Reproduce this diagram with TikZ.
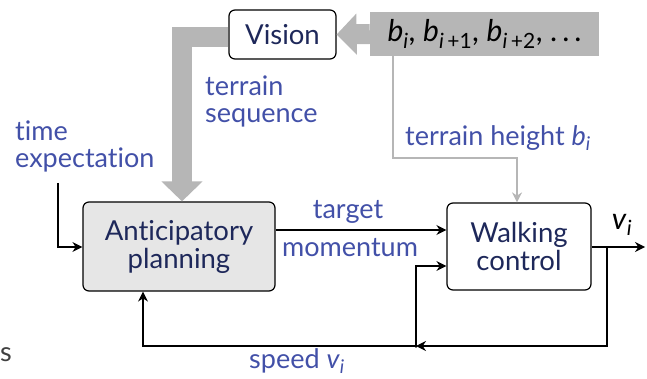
\documentclass[tikz,border=0pt]{standalone}
\usepackage{fontspec}
\setmainfont{Lato}[Ligatures=NoCommon]
\usetikzlibrary{arrows.meta,positioning}
\definecolor{labelblue}{RGB}{66,80,168}
\definecolor{boxtext}{RGB}{30,40,90}
\definecolor{seqgray}{RGB}{182,182,182}
\definecolor{plangray}{RGB}{230,230,230}
\newcommand{\bsub}[2]{\textit{#1}\textsubscript{#2}}

\begin{document}
\begin{tikzpicture}[x=1pt,y=-1pt,>={Stealth[length=10pt,width=10pt]},
  block/.style={draw,line width=1.2pt,rounded corners=6pt,align=center,
    text=boxtext,font=\fontsize{27.5}{28}\selectfont,inner sep=0pt},
  lbl/.style={text=labelblue,font=\fontsize{27}{27}\selectfont,align=left,inner sep=0pt},
  wire/.style={->,line width=1.2pt},
  bigarrow/.style={line width=20pt,seqgray,-{Triangle[length=20pt,width=40pt]}}]
\useasboundingbox (0,0) rectangle (647,379);

% blocks
  \node[block,minimum width=107pt,minimum height=49pt,fill=white] (vision) at (282.5,34.5) {Vision};
  \node[fill=seqgray,minimum width=229pt,minimum height=44pt,inner sep=0pt,
    font=\fontsize{30}{30}\selectfont] (seq) at (484.5,34)
    {\bsub{b}{\textit{i}}, \bsub{b}{\textit{i}\,+1}, \bsub{b}{\textit{i}\,+2}, .\,.\,.};
  \node[block,minimum width=192pt,minimum height=89pt,fill=plangray] (plan) at (179,246.5) {Anticipatory\\planning};
  \node[block,minimum width=144pt,minimum height=87pt,fill=white] (walk) at (519,246.5) {Walking\\control};

% helper points
  \coordinate (turn) at (182,37);
  \coordinate (split) at (416,346);
  \coordinate (back) at (607,346);
  \coordinate (outp) at (645,247);

% thick gray arrows
  \draw[bigarrow] (seq.west) -- (vision.east);
  \draw[bigarrow,line join=miter] (vision.west |- turn) -- (turn) -- (turn |- plan.north);

% terrain height
  \draw[->,seqgray,line width=2pt] (393,56) |- (517,158) -- (walk.north -| 517,0);

% signal wires
  \draw[wire] (58,183) |- (plan.west |- 0,247);
  \draw[->,line width=2.4pt] (plan.east |- 0,230) -- (walk.west |- 0,230);
  \draw[wire] (walk.east |- outp) -- (outp);
  \draw[wire] (back |- outp) -- (back) -- (split);
  \draw[wire] (split) -| (143,0 |- plan.south);
  \draw[wire] (split) |- (walk.west |- 0,266);
  \fill (split) circle (1.8pt);

% labels
  \node[lbl,anchor=west] (tseq) at (205,101) {terrain\\sequence};
  \node[lbl,anchor=west] (texp) at (15,146) {time\\expectation};
  \node[lbl] (tgt) at (348,212) {target};
  \node[lbl] (mom) at (350,248) {momentum};
  \node[lbl,anchor=west] (theight) at (405,138) {terrain height \bsub{b}{\textit{i}}};
  \node[lbl] (speed) at (297,361) {speed \bsub{v}{\textit{i}}};
  \node[font=\fontsize{30}{30}\selectfont,inner sep=0pt] (vout) at (622,225) {\bsub{v}{\textit{i}}};
  \node[text=black!75,font=\fontsize{27}{27}\selectfont,anchor=west,inner sep=0pt] (cut) at (0,355) {s};
\end{tikzpicture}
\end{document}
